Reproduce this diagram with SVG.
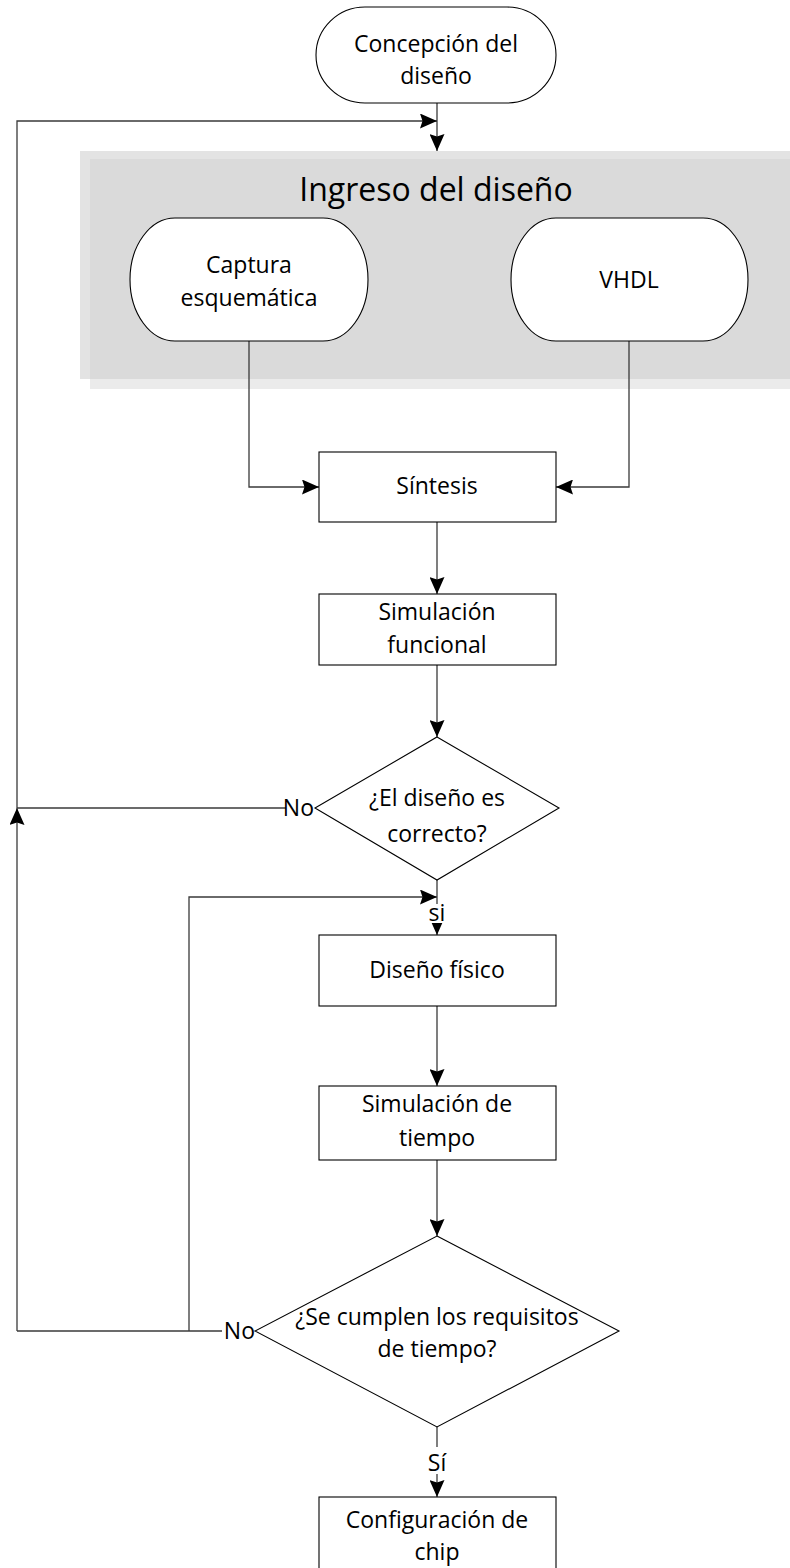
<svg xmlns="http://www.w3.org/2000/svg" width="790" height="1568" viewBox="0 0 790 1568">
  <defs>
    <marker id="arrow" viewBox="0 0 17 15" refX="17" refY="7.5" markerWidth="17" markerHeight="15" markerUnits="userSpaceOnUse" orient="auto">
      <path d="M0,0 L17,7.5 L0,15 L2.5,7.5 Z" fill="#000"/>
    </marker>
    <style>
      .shape { fill: #fff; stroke: #000; stroke-width: 1.1; }
      .conn { fill: none; stroke: #3a3a3a; stroke-width: 1.3; }
      .lbl { font-family: "Open Sans", "Noto Sans", sans-serif; font-size: 23px; fill: #000; text-anchor: middle; }
      .title { font-family: "Open Sans", "Noto Sans", sans-serif; font-size: 32px; fill: #000; text-anchor: middle; }
      .mask { fill: #fff; }
    </style>
  </defs>
  <rect width="790" height="1568" fill="#fff"/>

  <!-- Design-entry container: two overlapping translucent panels -->
  <g id="panel-ingreso">
    <rect x="80" y="151" width="710" height="228" fill="#e3e3e3"/>
    <rect x="90" y="159" width="700" height="230" fill="#ebebeb"/>
    <rect x="90" y="159" width="700" height="220" fill="#dadada"/>
    <text class="title" x="436" y="201">Ingreso del diseño</text>
  </g>

  <!-- Connectors -->
  <g id="connectors">
    <path class="conn" d="M437,103 V151" marker-end="url(#arrow)"/>
    <path class="conn" d="M17,808 V121 H437" marker-end="url(#arrow)"/>
    <path class="conn" d="M17,1331 V808" marker-end="url(#arrow)"/>
    <path class="conn" d="M286,808 H17"/>
    <path class="conn" d="M222,1331 H17"/>
    <path class="conn" d="M189,1331 V897 H437" marker-end="url(#arrow)"/>
    <path class="conn" d="M249,341 V487 H319" marker-end="url(#arrow)"/>
    <path class="conn" d="M629,341 V487 H556" marker-end="url(#arrow)"/>
    <path class="conn" d="M437,522 V594" marker-end="url(#arrow)"/>
    <path class="conn" d="M437,665 V737" marker-end="url(#arrow)"/>
    <path class="conn" d="M437,880 V935" marker-end="url(#arrow)"/>
    <path class="conn" d="M437,1006 V1086" marker-end="url(#arrow)"/>
    <path class="conn" d="M437,1160 V1236" marker-end="url(#arrow)"/>
    <path class="conn" d="M437,1427 V1497" marker-end="url(#arrow)"/>
    <!-- connector labels -->
    <text class="lbl" x="314" y="816" style="text-anchor:end">No</text>
    <rect class="mask" x="428" y="904" width="18" height="19"/>
    <text class="lbl" x="437" y="921">si</text>
    <text class="lbl" x="255" y="1339" style="text-anchor:end">No</text>
    <rect class="mask" x="425" y="1447" width="24" height="27"/>
    <text class="lbl" x="437" y="1471">Sí</text>
  </g>

  <g id="n-concepcion">
    <path class="shape" d="M365,7 H507 A49,48 0 0 1 507,103 H365 A49,48 0 0 1 365,7 Z"/>
    <text class="lbl" x="436" y="52">Concepción del</text>
    <text class="lbl" x="436" y="84">diseño</text>
  </g>

  <g id="n-captura">
    <path class="shape" d="M175,218 H323 A45,61.5 0 0 1 323,341 H175 A45,61.5 0 0 1 175,218 Z"/>
    <text class="lbl" x="249" y="273">Captura</text>
    <text class="lbl" x="249" y="306">esquemática</text>
  </g>

  <g id="n-vhdl">
    <path class="shape" d="M556,218 H703 A45,61.5 0 0 1 703,341 H556 A45,61.5 0 0 1 556,218 Z"/>
    <text class="lbl" x="629" y="288">VHDL</text>
  </g>

  <g id="n-sintesis">
    <rect class="shape" x="319" y="452" width="237" height="70"/>
    <text class="lbl" x="437" y="494">Síntesis</text>
  </g>

  <g id="n-sim-funcional">
    <rect class="shape" x="319" y="594" width="237" height="71"/>
    <text class="lbl" x="437" y="620">Simulación</text>
    <text class="lbl" x="437" y="653">funcional</text>
  </g>

  <g id="n-correcto">
    <path class="shape" d="M437,737 L559,808 L437,880 L315,808 Z"/>
    <text class="lbl" x="437" y="806">¿El diseño es</text>
    <text class="lbl" x="437" y="842">correcto?</text>
  </g>

  <g id="n-diseno-fisico">
    <rect class="shape" x="319" y="935" width="237" height="71"/>
    <text class="lbl" x="437" y="978">Diseño físico</text>
  </g>

  <g id="n-sim-tiempo">
    <rect class="shape" x="319" y="1086" width="237" height="74"/>
    <text class="lbl" x="437" y="1112">Simulación de</text>
    <text class="lbl" x="437" y="1146">tiempo</text>
  </g>

  <g id="n-requisitos">
    <path class="shape" d="M437,1236 L619,1331 L437,1427 L255,1331 Z"/>
    <text class="lbl" x="437" y="1325">¿Se cumplen los requisitos</text>
    <text class="lbl" x="437" y="1357">de tiempo?</text>
  </g>

  <g id="n-configuracion">
    <rect class="shape" x="319" y="1497" width="237" height="80"/>
    <text class="lbl" x="437" y="1528">Configuración de</text>
    <text class="lbl" x="437" y="1560">chip</text>
  </g>
</svg>
